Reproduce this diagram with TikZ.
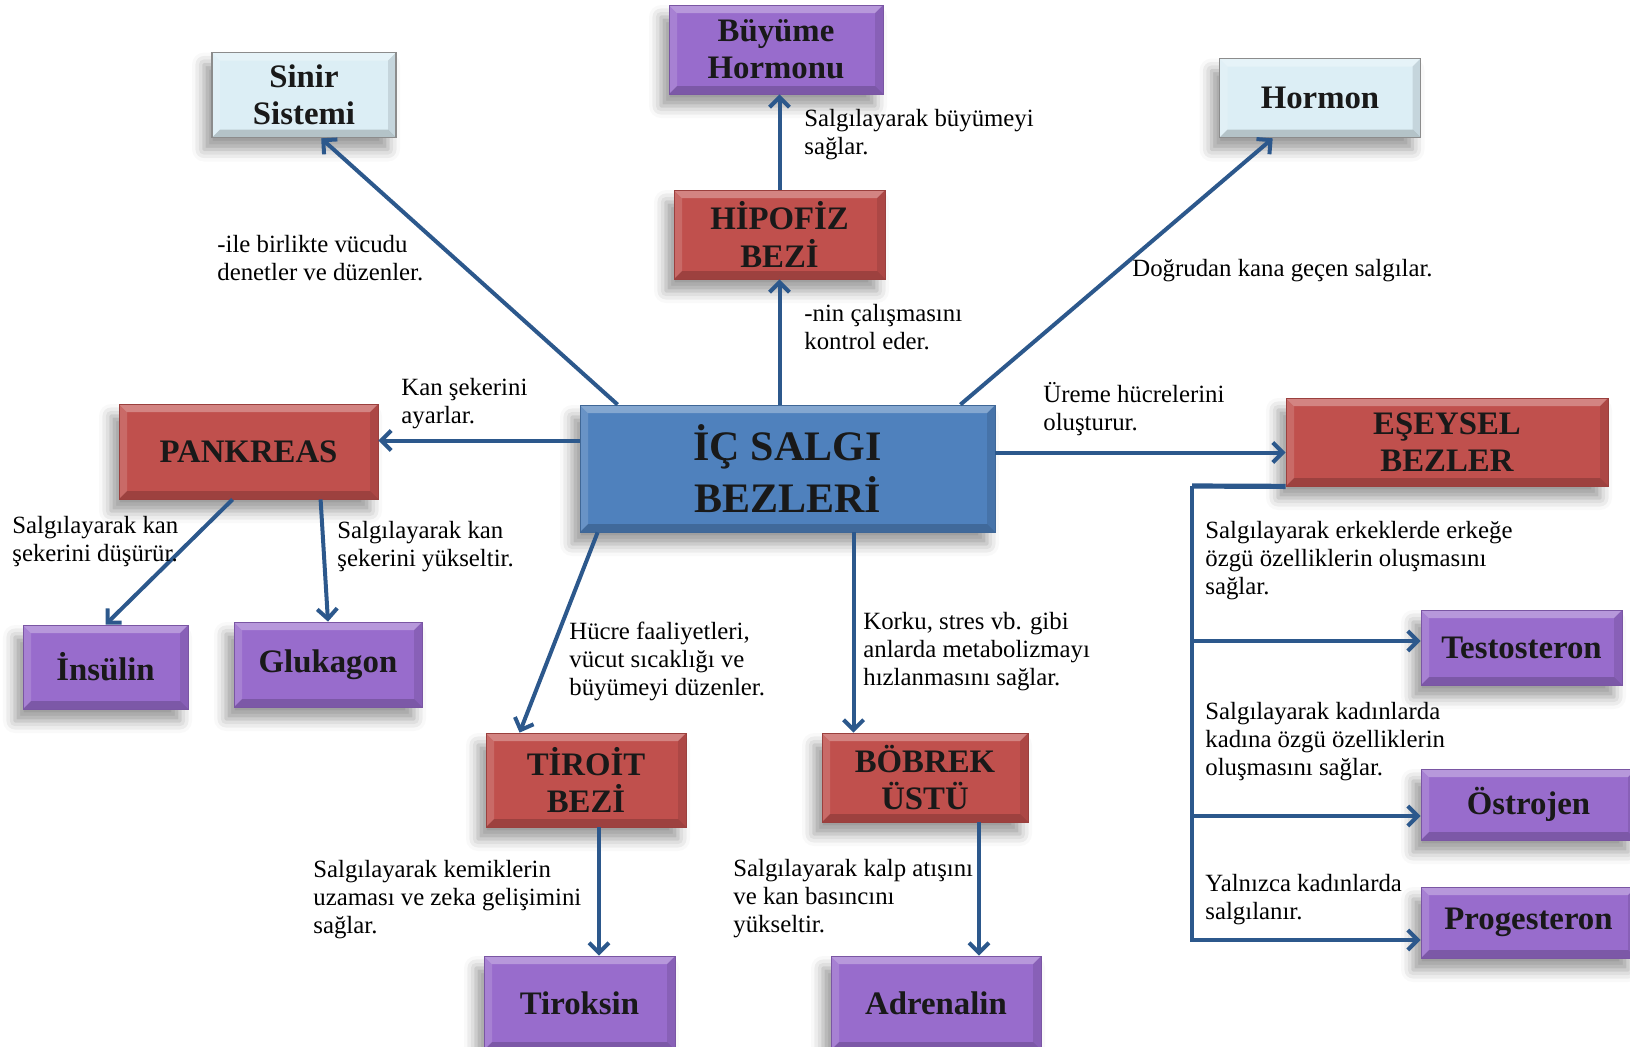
\documentclass[tikz,border=0pt]{standalone}
\usepackage{fontspec}
\setmainfont{Liberation Serif}
\usepackage{tikz}
\usetikzlibrary{arrows.meta,calc,shadows.blur}
\definecolor{glandred}{HTML}{C0504D}
\definecolor{hormpurple}{RGB}{152,108,204}
\definecolor{coreblue}{HTML}{4F81BD}
\definecolor{ideafill}{HTML}{DCEEF5}
\definecolor{linkblue}{RGB}{44,88,140}
\newcommand{\bevelfaces}{%
  \path (path picture bounding box.north west) coordinate (bA)
        (path picture bounding box.north east) coordinate (bB)
        (path picture bounding box.south east) coordinate (bC)
        (path picture bounding box.south west) coordinate (bD)
        ([shift={(4pt,-4pt)}]path picture bounding box.north west) coordinate (iA)
        ([shift={(-4pt,-4pt)}]path picture bounding box.north east) coordinate (iB)
        ([shift={(-4pt,4pt)}]path picture bounding box.south east) coordinate (iC)
        ([shift={(4pt,4pt)}]path picture bounding box.south west) coordinate (iD);
  \fill[white,opacity=.30] (bA) -- (bB) -- (iB) -- (iA) -- cycle;
  \fill[white,opacity=.15] (bA) -- (iA) -- (iD) -- (bD) -- cycle;
  \fill[black,opacity=.18] (bD) -- (iD) -- (iC) -- (bC) -- cycle;
  \fill[black,opacity=.10] (bB) -- (bC) -- (iC) -- (iB) -- cycle;
}

\begin{document}
\begin{tikzpicture}[x=0.5pt,y=-0.5pt,>={Straight Barb[length=5pt,width=10pt]},
  box/.style={inner sep=2pt,align=center,font=\fontsize{16.4}{18.7}\selectfont\bfseries,
    text=black!90,path picture={\bevelfaces},
    blur shadow={shadow xshift=-4pt,shadow yshift=-6pt,shadow blur radius=6pt}},
  gland/.style={box,fill=glandred,draw=glandred!80!black,line width=0.4pt},
  horm/.style={box,fill=hormpurple,draw=hormpurple!80!black,line width=0.4pt},
  idea/.style={box,fill=ideafill,draw=black!45,line width=0.8pt},
  core/.style={box,fill=coreblue,draw=coreblue!80!black,line width=0.4pt,font=\fontsize{21}{26}\selectfont\bfseries},
  lab/.style={anchor=north west,inner sep=0pt,align=left,font=\fontsize{12.4}{14}\selectfont},
  link/.style={line width=2pt,draw=linkblue}]
\useasboundingbox (0,0) rectangle (1630,1046);

% boxes
\node[core,minimum width=207.5pt,minimum height=63.5pt] (core) at (787.5,468.5) {İÇ SALGI\\BEZLERİ};
\node[idea,minimum width=92pt,minimum height=42.5pt] (sinir) at (304,95) {Sinir\\Sistemi};
\node[idea,minimum width=100.5pt,minimum height=39.5pt] (hormon) at (1320,98) {Hormon};
\node[horm,minimum width=107pt,minimum height=44.5pt] (buyume) at (776,49.5) {Büyüme\\Hormonu};
\node[gland,minimum width=105.5pt,minimum height=44.5pt] (hipofiz) at (779.5,234.5) {HİPOFİZ\\BEZİ};
\node[gland,minimum width=129.5pt,minimum height=47.5pt] (pankreas) at (248.5,451.5) {PANKREAS};
\node[gland,minimum width=161pt,minimum height=44pt] (eseysel) at (1447,442) {EŞEYSEL\\BEZLER};
\node[horm,minimum width=82.5pt,minimum height=42pt] (insulin) at (105.5,667) {İnsülin};
\node[horm,minimum width=94pt,minimum height=42.5pt] (glukagon) at (328,664.5) {Glukagon};
\node[gland,minimum width=100pt,minimum height=47pt] (tiroit) at (586,780) {TİROİT\\BEZİ};
\node[gland,minimum width=103pt,minimum height=44.5pt] (bobrek) at (925,777.5) {BÖBREK\\ÜSTÜ};
\node[horm,minimum width=95.5pt,minimum height=47pt] (tiroksin) at (579.5,1003) {Tiroksin};
\node[horm,minimum width=105pt,minimum height=47pt] (adrenalin) at (936,1003) {Adrenalin};
\node[horm,minimum width=100.5pt,minimum height=37.5pt] (testo) at (1521.5,647.5) {Testosteron};
\node[horm,minimum width=107.5pt,minimum height=35.5pt] (ostrojen) at (1528.5,804.5) {Östrojen};
\node[horm,minimum width=107.5pt,minimum height=35.5pt] (progesteron) at (1528.5,922.5) {Progesteron};

% connectors
\coordinate (pk) at ([yshift=14pt]core.west);
\coordinate (es) at ([yshift=8pt]core.east);
\coordinate (bb) at ([xshift=137pt]core.south west);
\coordinate (tr) at ([xshift=6.5pt]tiroit.south);
\coordinate (ad) at ([xshift=27pt]bobrek.south);
\draw[link,->] ([xshift=19pt]core.north west) -- ([xshift=55pt]sinir.south west);
\draw[link,->] (core.north -| hipofiz.south) -- (hipofiz.south);
\draw[link,->] (hipofiz.north) -- (hipofiz.north |- buyume.south);
\draw[link,->] ([xshift=-17.5pt]core.north east) -- ([xshift=27pt]hormon.south west);
\draw[link,->] (pk) -- (pk -| pankreas.east);
\draw[link,->] (es) -- (es -| eseysel.west);
\draw[link,->] ([xshift=57pt]pankreas.south west) -- (insulin.north);
\draw[link,->] ([xshift=101pt]pankreas.south west) -- (glukagon.north);
\draw[link,->] ([xshift=9pt]core.south west) -- ([xshift=17pt]tiroit.north west);
\draw[link,->] (bb) -- (bb |- bobrek.north);
\draw[link,->] (tr) -- (tr |- tiroksin.north);
\draw[link,->] (ad) -- (ad |- adrenalin.north);

% branch to the sex hormones
\coordinate (bus) at (1192,486);
\coordinate (b1) at (1192,641);
\coordinate (b2) at (1192,816);
\coordinate (b3) at (1192,940);
\draw[link,line width=2.6pt] (eseysel.south west) -- (bus);
\draw[link] (bus) -- ([yshift=-1pt]b3);
\draw[link,->] (b1) -- (b1 -| testo.west);
\draw[link,->] (b2) -- (b2 -| ostrojen.west);
\draw[link,->] (b3) -- (b3 -| progesteron.west);

% labels
\node[lab] (l1) at (217,235) {-ile birlikte vücudu\\denetler ve düzenler.};
\node[lab] (l2) at (804,109) {Salgılayarak büyümeyi\\sağlar.};
\node[lab] (l3) at (804,304) {-nin çalışmasını\\kontrol eder.};
\node[lab] (l4) at (1132,259) {Doğrudan kana geçen salgılar.};
\node[lab] (l5) at (401,378) {Kan şekerini\\ayarlar.};
\node[lab] (l6) at (1043,382) {Üreme hücrelerini\\oluşturur.};
\node[lab] (l7) at (12,516) {Salgılayarak kan\\şekerini düşürür.};
\node[lab] (l8) at (337,521) {Salgılayarak kan\\şekerini yükseltir.};
\node[lab] (l9) at (569,622) {Hücre faaliyetleri,\\vücut sıcaklığı ve\\büyümeyi düzenler.};
\node[lab] (l10) at (863,612) {Korku, stres vb. gibi\\anlarda metabolizmayı\\hızlanmasını sağlar.};
\node[lab] (l11) at (1205,521) {Salgılayarak erkeklerde erkeğe\\özgü özelliklerin oluşmasını\\sağlar.};
\node[lab] (l12) at (1205,702) {Salgılayarak kadınlarda\\kadına özgü özelliklerin\\oluşmasını sağlar.};
\node[lab] (l13) at (1205,874) {Yalnızca kadınlarda\\salgılanır.};
\node[lab] (l14) at (313,860) {Salgılayarak kemiklerin\\uzaması ve zeka gelişimini\\sağlar.};
\node[lab] (l15) at (733,859) {Salgılayarak kalp atışını\\ve kan basıncını\\yükseltir.};
\end{tikzpicture}
\end{document}
